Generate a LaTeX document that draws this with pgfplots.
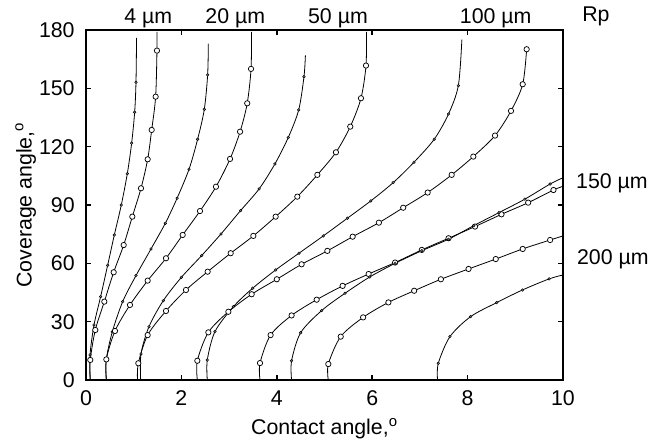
\documentclass[border=0pt]{standalone}
\usepackage{fontspec}
\setmainfont{Liberation Sans}
\usepackage{pgfplots}
\pgfplotsset{compat=1.18}
\newcommand\lbl{\fontsize{16}{19}\selectfont}
\pgfplotsset{
  crv/.style={black, line width=0.6pt, smooth, tension=0.5},
  om/.style={crv, mark=*, mark size=2.0pt, mark options={solid, fill=white, draw=black, line width=0.55pt}},
  sm/.style={crv, mark=*, mark size=1.0pt, mark options={solid, fill=black!50, draw=black, line width=0.35pt}},
}
\begin{document}
\begin{tikzpicture}
\begin{axis}[name=ax, at={(0pt,0pt)}, anchor=south west,
  scale only axis, width=357.75pt, height=262.5pt,
  xmin=0, xmax=10, ymin=0, ymax=180,
  xtick={0,2,...,10}, ytick={0,30,...,180},
  tick align=inside, major tick length=4pt,
  every tick/.style={black, line width=1.1pt},
  axis line style={line width=1.4pt},
  tick label style={font=\lbl},
  /pgf/number format/assume math mode=true,
  xticklabel style={yshift=-4.5pt},
  yticklabel style={xshift=-5pt},
  xlabel={Contact angle,\textsuperscript{o}},
  ylabel={Coverage angle,\textsuperscript{o}},
  xlabel style={font=\lbl, at={(axis description cs:0.5,0)}, anchor=base, yshift=-41.25pt},
  ylabel style={font=\lbl, at={(axis description cs:0,0.5)}, anchor=base, yshift=40.7pt},
  clip=false,
]
% 4 um
\addplot[sm, mark indices={2,3,4,5,6,7,8,9,10,11}] coordinates {
(0.085,0) (0.084,12.9) (0.168,28.3) (0.307,42.9) (0.454,59.0) (0.594,74.6) (0.74,90.0) (0.866,106.1) (0.957,121.8) (1.02,137.7) (1.048,153.1) (1.06,176)};
\addplot[om, mark indices={2,3,4,5,6,7,8,9,10,11,12}] coordinates {
(0.09,0) (0.09,10.3) (0.195,25.7) (0.384,40.3) (0.58,55.4) (0.79,69.4) (0.971,84.0) (1.153,98.6) (1.293,113.5) (1.377,128.6) (1.46,145.7) (1.488,169.4) (1.49,179)};
% 20 um
\addplot[sm, mark indices={2,3,4,5,6,7,8,9,10,11,12}] coordinates {
(0.426,0) (0.426,10.6) (0.552,24.8) (0.769,40.3) (1.048,53.7) (1.363,67.4) (1.663,80.6) (1.91,93.5) (2.16,108.4) (2.34,123.8) (2.48,139.2) (2.55,156.9) (2.565,173)};
\addplot[om, mark indices={2,3,4,5,6,7,8,9,10,11,12,13}] coordinates {
(0.426,0) (0.426,10.6) (0.608,25.2) (0.922,38.6) (1.293,51.1) (1.677,62.6) (2.027,74.6) (2.39,86.9) (2.725,99.4) (3.02,113.7) (3.23,127.7) (3.38,142.3) (3.46,160) (3.47,179)};
% 50 um
\addplot[sm, mark indices={2,3,4,5,6,7,8,9,10,11,12,13}] coordinates {
(1.146,0) (1.153,13.4) (1.32,27.4) (1.62,40.8) (2.0,52.8) (2.425,64.0) (2.83,75.1) (3.24,87.1) (3.63,98.3) (3.96,111.1) (4.24,124.7) (4.459,138.9) (4.57,156) (4.6,167)};
\addplot[om, mark indices={2,3,4,5,6,7,8,9,10,11,12,13,14,15}] coordinates {
(1.08,0) (1.097,8.6) (1.293,23.1) (1.677,35.5) (2.096,46.3) (2.55,55.7) (3.033,65.2) (3.508,74.1) (3.976,84.0) (4.43,94.3) (4.85,105.5) (5.24,117.1) (5.54,130.3) (5.765,144.9) (5.87,161.7) (5.88,179)};
% 100 um
\addplot[sm, mark indices={2,3,4,5,6,7,8,9,10,11,12,13,14,15}] coordinates {
(2.543,0) (2.543,10.3) (2.704,24.9) (3.09,37.7) (3.494,47.2) (3.976,56.6) (4.465,65.2) (4.975,74.1) (5.48,83.2) (5.97,92.1) (6.44,101.5) (6.876,112) (7.3,123.8) (7.6,136.8) (7.806,151.4) (7.88,175)};
\addplot[om, mark indices={2,3,4,5,6,7,8,9,10,11,12,13,14,15,16,17,18}] coordinates {
(2.334,0) (2.334,9.9) (2.565,24.5) (2.985,35.1) (3.473,44.1) (4.0,51.8) (4.52,59.5) (5.06,66.4) (5.59,73.7) (6.14,80.9) (6.65,88.6) (7.163,96.4) (7.666,105.5) (8.12,114.9) (8.575,125.7) (8.91,138.4) (9.155,152.1) (9.238,170.1)};
% 150 um
\addplot[om, mark indices={2,3,4,5,6,7,8,9,10,11,12,13,14}] coordinates {
(3.648,0) (3.648,8.7) (3.87,23.1) (4.31,33.2) (4.836,41.3) (5.38,48.4) (5.925,54.5) (6.48,60.4) (7.04,66.9) (7.6,72.9) (8.155,78.9) (8.71,85.2) (9.27,91.2) (9.8,97.7) (10,99.6)};
\addplot[sm, mark indices={2,3,4,5,6,7,8,9,10,11,12,13}] coordinates {
(4.31,0) (4.31,9.9) (4.5,24.3) (4.94,35.7) (5.43,44.6) (5.95,53.0) (6.48,60.0) (7.04,66.5) (7.6,72.4) (8.13,79.4) (8.66,86.1) (9.2,93.0) (9.73,100.8) (10,104)};
% 200 um
\addplot[om, mark indices={2,3,4,5,6,7,8,9,10,11}] coordinates {
(5.08,0) (5.08,8.2) (5.34,22.3) (5.81,32.2) (6.34,39.9) (6.88,45.9) (7.44,51.8) (8.02,57.1) (8.59,62.2) (9.155,67.4) (9.73,72.0) (10,74.1)};
\addplot[sm, mark indices={2,3,4,5,6,7}] coordinates {
(7.37,0) (7.386,8.6) (7.63,22.3) (8.064,32.6) (8.61,39.8) (9.15,46.3) (9.71,52.0) (10,54.0)};
% labels
\node[font=\lbl, anchor=base] at (axis cs:1.305,183.5) {4 µm};
\node[font=\lbl, anchor=base] at (axis cs:3.13,183.5) {20 µm};
\node[font=\lbl, anchor=base] at (axis cs:5.283,183.5) {50 µm};
\node[font=\lbl, anchor=base] at (axis cs:8.59,183.5) {100 µm};
\node[font=\lbl, anchor=base] at (axis cs:10.69,184.3) {Rp};
\node[font=\lbl, anchor=base west, inner xsep=0pt] at (axis cs:10.27,98.6) {150 µm};
\node[font=\lbl, anchor=base west, inner xsep=0pt] at (axis cs:10.29,59.2) {200 µm};
\end{axis}
\pgfresetboundingbox
\path[use as bounding box] ([shift={(-64.5pt,-45.75pt)}]ax.south west) rectangle ([shift={(71.25pt,22.5pt)}]ax.north east);
\end{tikzpicture}
\end{document}
